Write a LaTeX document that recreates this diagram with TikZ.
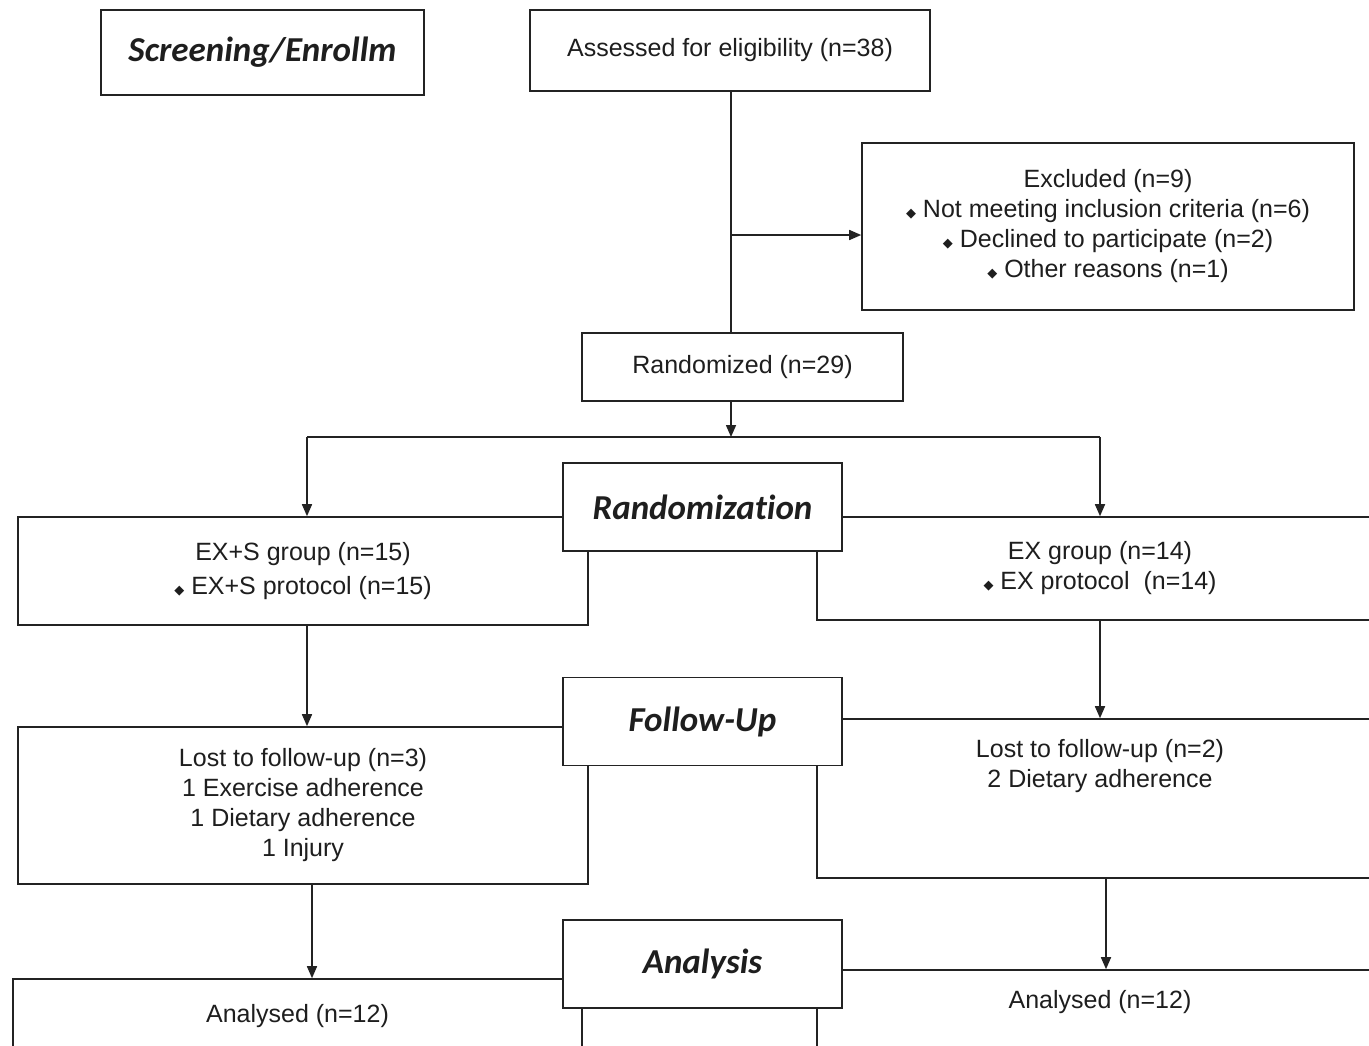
\documentclass[tikz,border=0pt]{standalone}
\usepackage{fontspec}
\setmainfont{Liberation Sans}
\newfontfamily\stagefont[Ligatures=NoCommon]{Carlito}
\newfontfamily\bulletfont{DejaVu Sans}
\usetikzlibrary{arrows.meta, positioning}
\definecolor{linedark}{RGB}{35, 35, 35}
\definecolor{textdark}{RGB}{30, 30, 30}
\newcommand{\dbullet}{{\bulletfont\fontsize{6.5}{6.5}\selectfont ◆}\ }

\begin{document}
\begin{tikzpicture}[
    x=0.5pt, y=-0.5pt,
    box/.style={rectangle, draw=linedark, line width=0.8pt, fill=white, align=center, inner sep=0pt, font=\fontsize{12.5}{15}\selectfont, text=textdark},
    stage/.style={box, minimum width=139.5pt, minimum height=44pt, font=\stagefont\bfseries\itshape\fontsize{17.5}{20}\selectfont},
    arrow/.style={-{Triangle[length=6pt, width=5pt]}, line width=0.8pt, draw=linedark},
    link/.style={line width=0.8pt, draw=linedark},
]
\useasboundingbox (0, 0) rectangle (1369, 1045);
\clip (0, 0) rectangle (1369, 1045);

% Enrollment
\node[stage, minimum width=161.5pt, minimum height=42.5pt] (screen) at (262.5, 52.5) {Screening/Enrollm};
\node[box, minimum width=200pt, minimum height=40.5pt] (assess) at (730, 50.5) {Assessed for eligibility (n=38)};
\node[box, minimum width=246pt, minimum height=83.5pt] (excl) at (1108, 226.5) {Excluded (n=9)\\
\dbullet Not meeting inclusion criteria (n=6)\\
\dbullet Declined to participate (n=2)\\
\dbullet Other reasons (n=1)};
\node[box, minimum width=160.5pt, minimum height=34pt] (rand) at (742.5, 367) {Randomized (n=29)};

\coordinate (split) at (731, 235);
\coordinate (fork) at (731, 437);
\coordinate (forkS) at (307, 437);
\coordinate (forkE) at (1100, 437);

\draw[link] (assess.south -| split) -- (rand.north -| split);
\draw[arrow] (split) -- (split -| excl.west);
\draw[arrow] (rand.south -| fork) -- (fork);
\draw[link] (forkS) -- (forkE);

% Allocation
\node[box, minimum width=285pt, minimum height=54pt] (grpS) at (303, 571) {EX+S group (n=15)\\[2pt]
\dbullet EX+S protocol (n=15)};
\node[box, minimum width=283pt, minimum height=51.5pt] (grpE) at (1100, 568.5) {EX group (n=14)\\
\dbullet EX protocol\ \ (n=14)};
\node[stage] (randlab) at (702.5, 507) {Randomization};

\draw[arrow] (forkS) -- (forkS |- grpS.north);
\draw[arrow] (forkE) -- (grpE.north);

% Follow-up
\node[box, minimum width=285pt, minimum height=78.5pt] (lostS) at (303, 805.5) {Lost to follow-up (n=3)\\
1 Exercise adherence\\
1 Dietary adherence\\
1 Injury};
\node[box, minimum width=283pt, minimum height=79.5pt] (lostE) at (1100, 798.5) {Lost to follow-up (n=2)\\
2 Dietary adherence\\[16pt]\strut};
\node[stage] (followlab) at (702.5, 721.5) {Follow-Up};

\draw[arrow] ([xshift=2pt]grpS.south) -- ([xshift=2pt]lostS.north);
\draw[arrow] (grpE.south) -- (lostE.north);

% Analysis
\node[box, minimum width=284.5pt, minimum height=37pt] (anS) at (297.5, 1016) {Analysed (n=12)};
\node[box, minimum width=283pt, minimum height=49pt] (anE) at (1100, 1019) {Analysed (n=12)\\\strut};
\node[stage] (analab) at (702.5, 964) {Analysis};

\draw[arrow] ([xshift=4.5pt]lostS.south) -- ([xshift=4.5pt]lostS.south |- anS.north);
\draw[arrow] ([xshift=3pt]lostE.south) -- ([xshift=3pt]lostE.south |- anE.north);

\end{tikzpicture}
\end{document}
